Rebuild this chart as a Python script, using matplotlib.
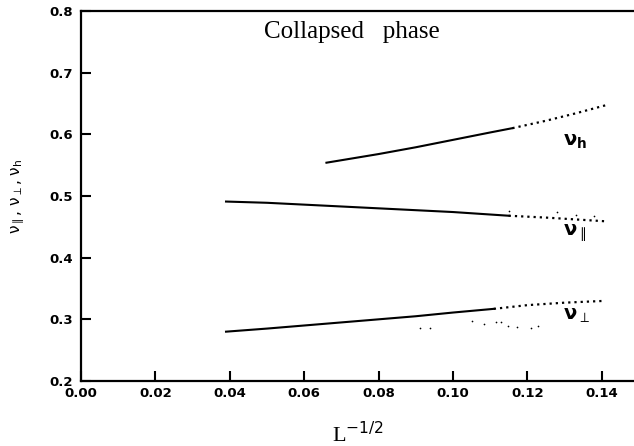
import matplotlib
matplotlib.use("Agg")
import matplotlib.pyplot as plt

# values (x = L^-1/2)
nu_h_x = [0.066, 0.08, 0.09, 0.10, 0.11, 0.116]
nu_h_y = [0.554, 0.568, 0.579, 0.591, 0.603, 0.610]
nu_h_dot_x = [0.116, 0.125, 0.133, 0.141]
nu_h_dot_y = [0.610, 0.622, 0.634, 0.647]

nu_par_x = [0.039, 0.05, 0.06, 0.07, 0.08, 0.09, 0.10, 0.11, 0.115]
nu_par_y = [0.491, 0.489, 0.486, 0.483, 0.480, 0.477, 0.474, 0.470, 0.468]
nu_par_dot_x = [0.115, 0.125, 0.133, 0.141]
nu_par_dot_y = [0.468, 0.465, 0.462, 0.459]

nu_perp_x = [0.039, 0.05, 0.06, 0.07, 0.08, 0.09, 0.10, 0.111]
nu_perp_y = [0.280, 0.285, 0.290, 0.295, 0.300, 0.305, 0.311, 0.317]
nu_perp_dot_x = [0.111, 0.12, 0.13, 0.141]
nu_perp_dot_y = [0.317, 0.323, 0.327, 0.330]

# stray points scattered under the curves
stray_x = [0.0911, 0.0938, 0.1051, 0.1083, 0.1116, 0.1129, 0.1148, 0.1172, 0.1210, 0.1230,
           0.1150, 0.1280, 0.1330, 0.1380]
stray_y = [0.286, 0.286, 0.298, 0.293, 0.296, 0.296, 0.290, 0.287, 0.286, 0.290,
           0.475, 0.474, 0.470, 0.468]

xticks = [0.00, 0.02, 0.04, 0.06, 0.08, 0.10, 0.12, 0.14]
yticks = [0.2, 0.3, 0.4, 0.5, 0.6, 0.7, 0.8]

fig = plt.figure(figsize=(6.34, 4.46), dpi=100)
ax = fig.add_axes([81 / 634, 65 / 446, 1 - 81 / 634, 370 / 446])

for xs, ys, dx, dy in [(nu_h_x, nu_h_y, nu_h_dot_x, nu_h_dot_y),
                       (nu_par_x, nu_par_y, nu_par_dot_x, nu_par_dot_y),
                       (nu_perp_x, nu_perp_y, nu_perp_dot_x, nu_perp_dot_y)]:
    ax.plot(xs, ys, color="black", lw=1.5)
    ax.plot(dx, dy, color="black", lw=1.6, linestyle=(0, (1, 1.8)))

ax.scatter(stray_x, stray_y, s=1.5, color="black", linewidths=0)

ax.set_xlim(0, 0.1487)
ax.set_ylim(0.2, 0.8)
ax.set_xticks(xticks)
ax.set_xticklabels([f"{t:.2f}" for t in xticks])
ax.set_yticks(yticks)
ax.set_yticklabels([f"{t:.1f}" for t in yticks])

for side in ["left", "bottom", "top"]:
    ax.spines[side].set_linewidth(1.6)
ax.spines["right"].set_visible(False)
ax.tick_params(direction="in", length=7.5, width=1.5, labelsize=9.5)
ax.tick_params(axis="x", pad=4)
ax.tick_params(axis="y", pad=6)
for lab in ax.get_xticklabels() + ax.get_yticklabels():
    lab.set_fontweight("bold")

ax.text(0.0729, 0.766, "Collapsed   phase", family="Liberation Serif", fontsize=18,
        ha="center", va="center")

ax.text(0.1295, 0.588, r"$\mathbf{\nu}_\mathbf{h}$", fontsize=14, ha="left", va="center")
ax.text(0.1295, 0.440, r"$\mathbf{\nu}_{\parallel}$", fontsize=14, ha="left", va="center")
ax.text(0.1295, 0.306, r"$\mathbf{\nu}_{\perp}$", fontsize=14, ha="left", va="center")

ax.set_ylabel(r"$\mathrm{\nu}_{\parallel}$, $\mathrm{\nu}_{\perp}$, $\mathrm{\nu}_\mathrm{h}$",
              fontsize=11, labelpad=16)
ax.set_xlabel(r"L$^{-1/2}$", family="Liberation Serif", fontsize=16, labelpad=16)

fig.savefig("out.png", dpi=100)
